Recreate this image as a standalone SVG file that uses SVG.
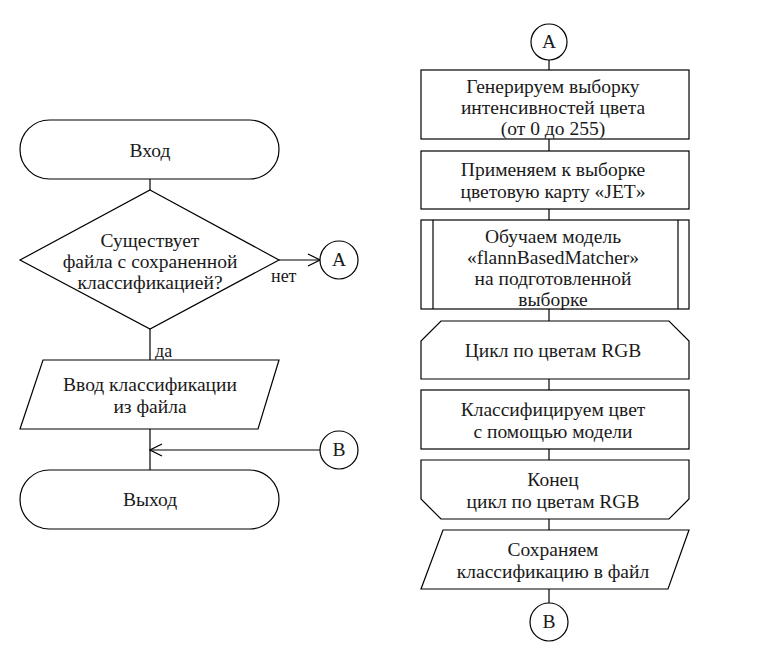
<svg xmlns="http://www.w3.org/2000/svg" width="782" height="660" viewBox="0 0 782 660">
<defs>
<style>
.s{fill:#fff;stroke:#000;stroke-width:1.2}
.l{fill:none;stroke:#000;stroke-width:1.2}
text{font-family:"Liberation Serif","Times New Roman",serif;font-size:19.5px;fill:#1a1a1a;text-anchor:middle}
.lb{text-anchor:start;font-size:18px}
</style>
<marker id="ar" viewBox="0 0 14 14" refX="13" refY="7" markerWidth="14" markerHeight="14" markerUnits="userSpaceOnUse" orient="auto">
<path d="M1,1 L13,7 L1,13" fill="none" stroke="#000" stroke-width="1.2"/>
</marker>
</defs>
<rect width="782" height="660" fill="#fff"/>
<g id="connectors">
<line class="l" x1="150" y1="179" x2="150" y2="190"/>
<line class="l" x1="279" y1="260" x2="320" y2="260" marker-end="url(#ar)"/>
<line class="l" x1="150" y1="329" x2="150" y2="360"/>
<line class="l" x1="150" y1="429" x2="150" y2="470"/>
<line class="l" x1="320" y1="450" x2="150" y2="450" marker-end="url(#ar)"/>
<line class="l" x1="549" y1="60" x2="549" y2="70"/>
<line class="l" x1="549" y1="139" x2="549" y2="151"/>
<line class="l" x1="549" y1="209" x2="549" y2="220"/>
<line class="l" x1="549" y1="309" x2="549" y2="321"/>
<line class="l" x1="549" y1="379" x2="549" y2="390"/>
<line class="l" x1="549" y1="449" x2="549" y2="460"/>
<line class="l" x1="549" y1="519" x2="549" y2="530"/>
<line class="l" x1="549" y1="589" x2="549" y2="603"/>
<text class="lb" x="271" y="282">нет</text>
<text class="lb" x="155" y="357">да</text>
</g>
<g id="start">
<rect class="s" x="20" y="120" width="259" height="59" rx="29.5" ry="29.5"/>
<text x="150" y="157">Вход</text>
</g>
<g id="decision">
<polygon class="s" points="150,190 279,260 150,329 20,260"/>
<text x="150" y="247">Существует</text>
<text x="150" y="268">файла с сохраненной</text>
<text x="150" y="289">классификацией?</text>
</g>
<g id="connA1">
<circle class="s" cx="339" cy="260" r="19"/>
<text x="339" y="266">A</text>
</g>
<g id="input">
<polygon class="s" points="43,360 279,360 258,429 20,429"/>
<text x="150" y="391">Ввод классификации</text>
<text x="150" y="413">из файла</text>
</g>
<g id="connB1">
<circle class="s" cx="339" cy="450" r="19"/>
<text x="339" y="456">B</text>
</g>
<g id="end">
<rect class="s" x="20" y="470" width="259" height="59" rx="29.5" ry="29.5"/>
<text x="150" y="506">Выход</text>
</g>
<g id="connA2">
<circle class="s" cx="549" cy="42" r="18"/>
<text x="549" y="48">A</text>
</g>
<g id="gen">
<rect class="s" x="421" y="70" width="268" height="69"/>
<text x="553" y="93">Генерируем выборку</text>
<text x="553" y="114">интенсивностей цвета</text>
<text x="553" y="135">(от 0 до 255)</text>
</g>
<g id="apply">
<rect class="s" x="421" y="151" width="268" height="58"/>
<text x="553" y="176">Применяем к выборке</text>
<text x="553" y="198">цветовую карту «JET»</text>
</g>
<g id="train">
<rect class="s" x="421" y="220" width="268" height="89"/>
<line class="l" x1="433" y1="220" x2="433" y2="309"/>
<line class="l" x1="678" y1="220" x2="678" y2="309"/>
<text x="553" y="243">Обучаем модель</text>
<text x="553" y="264">«flannBasedMatcher»</text>
<text x="553" y="285">на подготовленной</text>
<text x="553" y="306">выборке</text>
</g>
<g id="loopStart">
<polygon class="s" points="441,321 669,321 689,341 689,379 421,379 421,341"/>
<text x="553" y="357">Цикл по цветам RGB</text>
</g>
<g id="classify">
<rect class="s" x="421" y="390" width="268" height="59"/>
<text x="553" y="416">Классифицируем цвет</text>
<text x="553" y="438">с помощью модели</text>
</g>
<g id="loopEnd">
<polygon class="s" points="421,460 689,460 689,499 669,519 441,519 421,499"/>
<text x="553" y="486">Конец</text>
<text x="553" y="508">цикл по цветам RGB</text>
</g>
<g id="save">
<polygon class="s" points="443,530 689,530 668,589 421,589"/>
<text x="553" y="556">Сохраняем</text>
<text x="553" y="578">классификацию в файл</text>
</g>
<g id="connB2">
<circle class="s" cx="549" cy="622" r="19"/>
<text x="549" y="628">B</text>
</g>
</svg>
